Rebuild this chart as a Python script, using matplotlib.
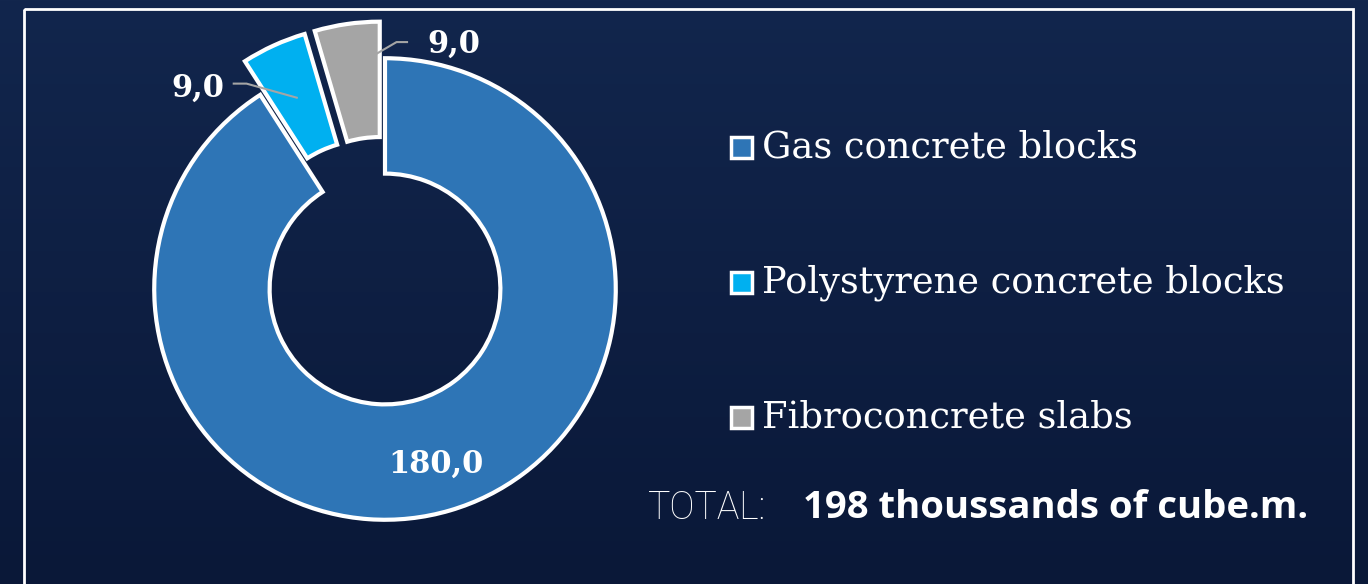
import numpy as np
import matplotlib
matplotlib.use('Agg')
import matplotlib.pyplot as plt
from matplotlib.patches import Rectangle

# Data
categories = ['Gas concrete blocks', 'Polystyrene concrete blocks', 'Fibroconcrete slabs']
volumes = [180.0, 9.0, 9.0]
value_labels = ['180,0', '9,0', '9,0']
colors = ['#2e75b6', '#00b0f0', '#a5a5a5']
total_label = '198 thoussands of cube.m.'

W, H = 1368, 584
fig = plt.figure(figsize=(W / 100, H / 100), dpi=100)

# background gradient (dark navy, lighter at top)
bg = fig.add_axes([0, 0, 1, 1])
grad = np.linspace(0, 1, 256).reshape(-1, 1)
cmap = matplotlib.colors.LinearSegmentedColormap.from_list('bg', ['#12264d', '#0a1838'])
bg.imshow(grad, aspect='auto', cmap=cmap, extent=[0, 1, 1, 0], origin='upper')
bg.set_xlim(0, 1)
bg.set_ylim(1, 0)
bg.axis('off')

# white frame
bg.add_patch(Rectangle((24 / W, 9 / H), (1353 - 24) / W, 1.2, fill=False,
                       edgecolor='white', linewidth=2))

# donut chart, centre at (385, 289) px, radius ~231 px
cx, cy, half = 385, 289, 300
ax = fig.add_axes([(cx - half) / W, (H - cy - half) / H, 2 * half / W, 2 * half / H])

explode = [0, 0.16, 0.16]
wedges, _ = ax.pie(volumes, colors=colors, startangle=90, counterclock=False,
                   explode=explode,
                   wedgeprops=dict(width=0.5, edgecolor='white', linewidth=3))
ax.set_xlim(-1.3, 1.3)
ax.set_ylim(-1.3, 1.3)
ax.axis('off')

# data labels
total = sum(volumes)
mids = []
start = 90
for v in volumes:
    ang = start - v / total * 360 / 2
    mids.append(np.deg2rad(ang))
    start -= v / total * 360

# big slice: label inside ring
r = 0.79
ax.text(r * np.cos(mids[0]), r * np.sin(mids[0]), value_labels[0], color='white',
        fontsize=22, fontweight='bold', family='DejaVu Serif', ha='center', va='center')

# small slices: leader lines to outside labels
leader_r = [None, 0.91, 0.97]
elbows = [None, (-0.60, 0.89), (0.05, 1.07)]
ends = [None, (-0.66, 0.89), (0.10, 1.07)]
text_pos = [None, (-0.81, 0.87), (0.30, 1.06)]
for i in (1, 2):
    x0 = leader_r[i] * np.cos(mids[i])
    y0 = leader_r[i] * np.sin(mids[i])
    ax.plot([x0, elbows[i][0], ends[i][0]], [y0, elbows[i][1], ends[i][1]],
            color='#a5a5a5', linewidth=1.5, solid_capstyle='butt')
    ax.text(text_pos[i][0], text_pos[i][1], value_labels[i], color='white',
            fontsize=22, fontweight='bold', family='DejaVu Serif', ha='center', va='center')

# legend
leg_y = [148, 283, 418]
for name, col, y in zip(categories, colors, leg_y):
    bg.add_patch(Rectangle((731 / W, (y - 11) / H), 21 / W, 21 / H, facecolor=col,
                           edgecolor='white', linewidth=2.5))
    bg.text(762 / W, y / H, name, color='white', fontsize=26.5, family='DejaVu Serif',
            ha='left', va='center')

# total line
bg.text(648 / W, 508 / H, 'TOTAL:', color='white', fontsize=27, family='Roboto',
        fontweight='light', ha='left', va='center')
bg.text(803 / W, 508 / H, total_label, color='white', fontsize=27.5, family='Open Sans',
        fontweight='bold', ha='left', va='center')

fig.savefig('out.png', dpi=100)
